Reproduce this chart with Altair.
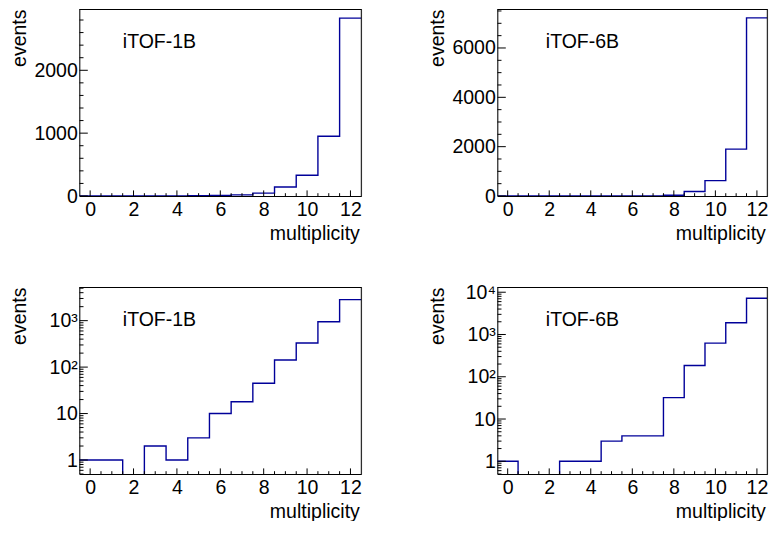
import altair as alt
import pandas as pd

# ---- data ----
multiplicity = list(range(13))
itof_1b = [1, 1, 0, 2, 1, 3, 10, 18, 45, 142, 330, 950, 2830]
itof_6b = [1, 0, 0, 1, 1, 3, 4, 4, 32, 185, 625, 1900, 7220]

x_major = [0, 2, 4, 6, 8, 10, 12]
x_minor = [0.5, 1, 1.5, 2.5, 3, 3.5, 4.5, 5, 5.5, 6.5, 7, 7.5, 8.5, 9, 9.5,
           10.5, 11, 11.5]

lin1_major = [0, 1000, 2000]
lin1_minor = [200, 400, 600, 800, 1200, 1400, 1600, 1800, 2200, 2400, 2600, 2800]
lin6_major = [0, 2000, 4000, 6000]
lin6_minor = [500, 1000, 1500, 2500, 3000, 3500, 4500, 5000, 5500, 6500, 7000, 7500]
log1_major = [1, 10, 100, 1000]
log6_major = [1, 10, 100, 1000, 10000]

FONT = "Liberation Sans, Arial, Helvetica, sans-serif"
BLUE = "#000099"
W_L, W_R, H = 282, 270, 187
FS = 19.5

# page geometry (svg kept inside the window so that nothing overflows)
SVG_W, SVG_H = 761, 513
LEFT, TOP = 71.3, 1


def log_minor(lo, hi):
    out = []
    for k in range(-1, 5):
        for m in range(2, 10):
            v = m * 10 ** k
            if lo <= v <= hi:
                out.append(v)
    return out


def panel(values, label, label_x, ytype, ydomain, ymajor, yminor, W):
    plot_vals = [v if v > 0 else 1e-3 for v in values] if ytype == "log" else list(values)
    edges = [m - 0.5 for m in multiplicity] + [multiplicity[-1] + 0.5]
    df = pd.DataFrame({"x": edges, "y": plot_vals + [plot_vals[-1]]})

    xs = alt.Scale(domain=[-0.5, 12.5], nice=False, zero=False)
    if ytype == "log":
        ys = alt.Scale(type="log", domain=ydomain, nice=False)
        lab = ("datum.value == 1 ? '1' : datum.value == 10 ? '10' : datum.value == 100 ? '10\u00b2' : "
               "datum.value == 1000 ? '10\u00b3' : '10\u2074'")
    else:
        ys = alt.Scale(domain=ydomain, nice=False, zero=True)
        lab = "format(datum.value, 'd')"

    x_axis = alt.Axis(values=x_major, format="d", ticks=False, grid=False,
                      domainColor="black", domainWidth=1,
                      labelFont=FONT, labelFontSize=FS, labelColor="black",
                      labelPadding=19, labelBaseline="alphabetic",
                      labelFlush=False, labelOverlap=False,
                      title="multiplicity", titleFont=FONT, titleFontSize=FS,
                      titleFontWeight="normal", titleColor="black",
                      titleAlign="right", titleAnchor="end",
                      titleBaseline="alphabetic", titleX=W - 2, titleY=43)
    y_axis = alt.Axis(values=ymajor, labelExpr=lab, ticks=False, grid=False,
                      domainColor="black", domainWidth=1,
                      labelFont=FONT, labelFontSize=FS, labelColor="black",
                      labelPadding=2, labelAlign="right", labelBaseline="middle",
                      labelFlush=False, labelOverlap=False,
                      title="events", titleFont=FONT, titleFontSize=FS,
                      titleFontWeight="normal", titleColor="black",
                      titleAngle=270, titleAlign="right", titleAnchor="end",
                      titleBaseline="alphabetic", titleX=-54, titleY=0)

    X = alt.X("x:Q", scale=xs, axis=x_axis)
    Y = alt.Y("y:Q", scale=ys, axis=y_axis)

    hist = alt.Chart(df).mark_line(interpolate="step-after", color=BLUE,
                                   strokeWidth=1.4, clip=True).encode(x=X, y=Y)

    def xticks(vals, ln):
        return alt.Chart(pd.DataFrame({"x": vals})).mark_rule(
            color="black", strokeWidth=1).encode(
            x=X, y=alt.value(H), y2=alt.value(H - ln))

    def yticks(vals, ln):
        return alt.Chart(pd.DataFrame({"y": vals})).mark_rule(
            color="black", strokeWidth=1, clip=True).encode(
            y=Y, x=alt.value(0), x2=alt.value(ln))

    one = pd.DataFrame({"t": [label]})
    top = alt.Chart(one).mark_rule(color="black", strokeWidth=1).encode(
        x=alt.value(0), x2=alt.value(W), y=alt.value(0.5))
    right = alt.Chart(one).mark_rule(color="black", strokeWidth=1).encode(
        x=alt.value(W), y=alt.value(0), y2=alt.value(H))
    text = alt.Chart(one).mark_text(align="left", baseline="alphabetic",
                                    font=FONT, fontSize=FS, color="black").encode(
        x=alt.value(label_x), y=alt.value(39), text="t:N")

    return alt.layer(
        hist,
        xticks(x_major, 5.6), xticks(x_minor, 2.8),
        yticks(ymajor, 8.5), yticks(yminor, 4.2),
        top, right, text,
    ).properties(width=W, height=H)


tl = panel(itof_1b, "iTOF-1B", 43.5, "linear", [0, 2975], lin1_major, lin1_minor, W_L)
tr = panel(itof_6b, "iTOF-6B", 48.5, "linear", [0, 7580], lin6_major, lin6_minor, W_R)
bl = panel(itof_1b, "iTOF-1B", 43.5, "log", [0.5, 5300], log1_major, log_minor(0.5, 5300), W_L)
br = panel(itof_6b, "iTOF-6B", 48.5, "log", [0.5, 13300], log6_major, log_minor(0.5, 13300), W_R)

chart = alt.concat(
    tl, tr, bl, br, columns=2, spacing={"row": 91, "column": 136}, bounds="flush"
).properties(
    autosize=alt.AutoSizeParams(type="none"),
    padding={"left": LEFT, "top": TOP, "right": SVG_W - LEFT, "bottom": SVG_H - TOP},
).configure_view(stroke=None).configure(background="white")

chart.save("out.html", embed_options={"renderer": "svg", "actions": False})
